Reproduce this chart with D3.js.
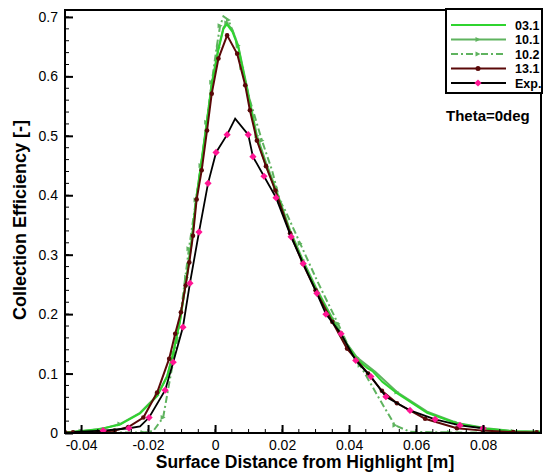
<!DOCTYPE html>
<html>
<head>
<meta charset="utf-8">
<script src="https://cdn.jsdelivr.net/npm/d3@7"></script>
<style>
body{margin:0;background:#fff;}
text{font-family:"Liberation Sans",Arial,Helvetica,sans-serif;}
</style>
</head>
<body>
<svg id="c" width="543" height="472"></svg>
<script>
// ---------- data (x = surface distance [m], y = collection efficiency) ----------
const seriesNames = ["03.1", "10.1", "10.2", "13.1", "Exp."];
const xMajorTicks = [-0.04, -0.02, 0, 0.02, 0.04, 0.06, 0.08];
const yMajorTicks = [0, 0.1, 0.2, 0.3, 0.4, 0.5, 0.6, 0.7];

const s031 = [[-0.0448,0.001],[-0.0424,0.002],[-0.035,0.006],[-0.0284,0.014],[-0.0224,0.033],[-0.0173,0.062],[-0.0143,0.095],[-0.0125,0.134],[-0.0104,0.19],[-0.0085,0.26],[-0.007,0.32],[-0.0057,0.39],[-0.0042,0.45],[-0.0025,0.52],[-0.001,0.585],[0.001,0.645],[0.0025,0.68],[0.0035,0.688],[0.0052,0.675],[0.0069,0.65],[0.0096,0.576],[0.0125,0.495],[0.0152,0.45],[0.018,0.41],[0.0224,0.338],[0.0262,0.288],[0.03,0.243],[0.035,0.19],[0.0394,0.148],[0.0424,0.124],[0.0455,0.109],[0.047,0.104],[0.05,0.086],[0.0543,0.067],[0.0633,0.034],[0.0722,0.016],[0.081,0.007],[0.089,0.003],[0.097,0.002]];

const s101 = [[-0.0448,0.001],[-0.04,0.003],[-0.033,0.008],[-0.0284,0.015],[-0.0224,0.034],[-0.0173,0.063],[-0.0143,0.096],[-0.0125,0.135],[-0.0104,0.192],[-0.0085,0.262],[-0.007,0.325],[-0.0057,0.392],[-0.0042,0.452],[-0.0025,0.523],[-0.001,0.588],[0.001,0.648],[0.0025,0.682],[0.0035,0.69],[0.0052,0.678],[0.0069,0.652],[0.0096,0.58],[0.0125,0.5],[0.0152,0.455],[0.018,0.413],[0.0224,0.341],[0.0262,0.291],[0.03,0.246],[0.035,0.193],[0.0394,0.15],[0.0424,0.127],[0.0478,0.103],[0.0543,0.069],[0.0633,0.036],[0.0722,0.017],[0.081,0.008],[0.089,0.003],[0.097,0.002]];

const s102 = [[-0.0448,0.001],[-0.03,0.001],[-0.0215,0.001],[-0.0185,0.003],[-0.0155,0.026],[-0.0134,0.093],[-0.0113,0.156],[-0.0095,0.235],[-0.0078,0.31],[-0.006,0.38],[-0.0042,0.45],[-0.0025,0.52],[-0.001,0.59],[0.0005,0.65],[0.0015,0.685],[0.0025,0.701],[0.004,0.695],[0.006,0.665],[0.008,0.615],[0.0104,0.56],[0.014,0.492],[0.017,0.442],[0.0194,0.39],[0.0209,0.375],[0.0254,0.319],[0.0304,0.257],[0.0367,0.184],[0.0418,0.122],[0.0433,0.114],[0.0493,0.055],[0.0537,0.013],[0.0582,0.002],[0.07,0.001],[0.08,0.001],[0.097,0.001]];

const s131 = [[-0.0448,0.001],[-0.0424,0.001],[-0.035,0.0015],[-0.03,0.004],[-0.0259,0.01],[-0.0214,0.026],[-0.0173,0.068],[-0.0137,0.125],[-0.0119,0.167],[-0.0102,0.203],[-0.0088,0.248],[-0.0077,0.287],[-0.0066,0.332],[-0.0055,0.393],[-0.004,0.442],[-0.0024,0.509],[-0.001,0.571],[0.001,0.63],[0.0036,0.669],[0.0066,0.638],[0.009,0.585],[0.0104,0.543],[0.0125,0.492],[0.0152,0.449],[0.018,0.408],[0.0224,0.336],[0.0262,0.285],[0.03,0.24],[0.035,0.187],[0.0394,0.142],[0.0457,0.1],[0.0498,0.071],[0.0543,0.05],[0.0627,0.024],[0.0722,0.008],[0.08,0.004],[0.089,0.0015],[0.096,0.001]];

const expX = [-0.042,-0.0334,-0.0257,-0.0224,-0.0197,-0.0149,-0.0125,-0.0096,-0.0075,-0.0048,-0.0021,0.0003,0.0036,0.006,0.0099,0.0113,0.0146,0.0182,0.0227,0.0263,0.0304,0.0331,0.0376,0.042,0.0465,0.051,0.0582,0.0657,0.0731,0.08];
const expY = [0.002,0.004,0.008,0.011,0.026,0.072,0.119,0.178,0.252,0.338,0.42,0.472,0.502,0.529,0.502,0.465,0.432,0.396,0.33,0.285,0.235,0.2,0.167,0.122,0.095,0.061,0.038,0.023,0.013,0.008];
const expMarked = [0,1,1,0,1,1,1,1,1,1,1,1,1,0,1,1,1,1,1,1,1,1,1,1,1,1,1,1,1,1];

// ---------- layout ----------
const svg = d3.select("#c");
const L = 65, R = 541, T = 10, B = 433;
const x = d3.scaleLinear().domain([-0.0448, 0.0973]).range([L, R]);
const y = d3.scaleLinear().domain([0, 0.7117]).range([B, T]);

const colors = {"03.1":"#2fd42f","10.1":"#5fb35f","10.2":"#5fb35f","13.1":"#5a0808","Exp.":"#000000"};
const fmt = d => d === 0 ? "0" : String(+d.toFixed(2));

svg.append("defs").append("clipPath").attr("id","pc")
  .append("rect").attr("x",L).attr("y",T).attr("width",R-L).attr("height",B-T);

const plot = svg.append("g").attr("clip-path","url(#pc)");
const line = d3.line().x(d=>x(d[0])).y(d=>y(d[1]));

function triangle(g, px, py, col, s){
  g.append("path").attr("d",`M${px-s},${py-s} L${px+s},${py} L${px-s},${py+s} Z`).attr("fill",col);
}

// 10.2 dash-dot
plot.append("path").datum(s102).attr("d",line).attr("fill","none")
  .attr("stroke",colors["10.2"]).attr("stroke-width",2).attr("stroke-dasharray","7,3,2,3");
s102.forEach((d,i)=>{ if(i%2===0) triangle(plot, x(d[0]), y(d[1]), colors["10.2"], 2.5); });
// 10.1
plot.append("path").datum(s101).attr("d",line).attr("fill","none")
  .attr("stroke",colors["10.1"]).attr("stroke-width",2);
s101.forEach((d,i)=>{ if(i%2===1) triangle(plot, x(d[0]), y(d[1]), colors["10.1"], 2.5); });
// 03.1
plot.append("path").datum(s031).attr("d",line).attr("fill","none")
  .attr("stroke",colors["03.1"]).attr("stroke-width",2);
// 13.1
plot.append("path").datum(s131).attr("d",line).attr("fill","none")
  .attr("stroke",colors["13.1"]).attr("stroke-width",2);
plot.selectAll("circle.m131").data(s131).enter().append("circle")
  .attr("cx",d=>x(d[0])).attr("cy",d=>y(d[1])).attr("r",2.3).attr("fill",colors["13.1"]);
// Exp
const expPts = expX.map((v,i)=>[v, expY[i]]);
plot.append("path").datum(expPts).attr("d",line).attr("fill","none")
  .attr("stroke","#000").attr("stroke-width",1.8);
plot.selectAll("path.mexp").data(expPts.filter((d,i)=>expMarked[i])).enter().append("path")
  .attr("d",d=>{const px=x(d[0]),py=y(d[1]),s=3.6;return `M${px},${py-s} L${px+s},${py} L${px},${py+s} L${px-s},${py} Z`;})
  .attr("fill","#ff1493");

// ---------- axes ----------
const xMinor = d3.range(-0.045, 0.0975, 0.005).filter(v=>v>=-0.0448 && v<=0.0973);
const yMinor = d3.range(0, 0.7101, 0.02);

const ax = svg.append("g");
xMinor.forEach(v=>ax.append("line").attr("x1",x(v)).attr("x2",x(v)).attr("y1",B).attr("y2",B-4).attr("stroke","#000").attr("stroke-width",1));
yMinor.forEach(v=>ax.append("line").attr("x1",L).attr("x2",L+4).attr("y1",y(v)).attr("y2",y(v)).attr("stroke","#000").attr("stroke-width",1));

const xAxis = d3.axisBottom(x).tickValues(xMajorTicks).tickSizeInner(-8).tickSizeOuter(0).tickPadding(7).tickFormat(fmt);
const gx = svg.append("g").attr("transform",`translate(0,${B})`).call(xAxis);
gx.select(".domain").remove();
gx.selectAll(".tick line").attr("stroke","#000").attr("stroke-width",2);
gx.selectAll(".tick text").attr("font-size",14).attr("fill","#000").attr("font-family","Liberation Sans, Arial, sans-serif");

const yAxis = d3.axisLeft(y).tickValues(yMajorTicks).tickSizeInner(-8).tickSizeOuter(0).tickPadding(7).tickFormat(fmt);
const gy = svg.append("g").attr("transform",`translate(${L},0)`).call(yAxis);
gy.select(".domain").remove();
gy.selectAll(".tick line").attr("stroke","#000").attr("stroke-width",2);
gy.selectAll(".tick text").attr("font-size",14).attr("fill","#000").attr("font-family","Liberation Sans, Arial, sans-serif");

// frame
svg.append("rect").attr("x",L).attr("y",T).attr("width",R-L).attr("height",B-T)
  .attr("fill","none").attr("stroke","#000").attr("stroke-width",2);

// titles
svg.append("text").attr("x",305).attr("y",468).attr("text-anchor","middle")
  .attr("font-size",17.5).attr("font-weight","bold").text("Surface Distance from Highlight [m]");
svg.append("text").attr("transform","translate(26,220) rotate(-90)").attr("text-anchor","middle")
  .attr("font-size",18).attr("font-weight","bold").text("Collection Efficiency [-]");

// legend
const lg = svg.append("g");
lg.append("rect").attr("x",446).attr("y",9).attr("width",96).attr("height",84)
  .attr("fill","#fff").attr("stroke","#000").attr("stroke-width",2);
seriesNames.forEach((name,i)=>{
  const ly = 25 + i*14.5;
  const col = colors[name];
  const l = lg.append("line").attr("x1",451).attr("x2",506).attr("y1",ly).attr("y2",ly)
    .attr("stroke", name==="Exp." ? "#000" : col).attr("stroke-width", 2);
  if(name==="10.2") l.attr("stroke-dasharray","7,3,2,3");
  if(name==="10.1"||name==="10.2") triangle(lg, 478, ly, col, 2.5);
  if(name==="13.1") lg.append("circle").attr("cx",478).attr("cy",ly).attr("r",2.5).attr("fill",col);
  if(name==="Exp.") lg.append("path").attr("d",`M478,${ly-3.6} L481.6,${ly} L478,${ly+3.6} L474.4,${ly} Z`).attr("fill","#ff1493");
  lg.append("text").attr("x",515).attr("y",ly+4.5).attr("font-size",12.5).attr("font-weight","bold").text(name);
});
svg.append("text").attr("x",446).attr("y",121).attr("font-size",15).attr("font-weight","bold").text("Theta=0deg");
</script>
</body>
</html>
